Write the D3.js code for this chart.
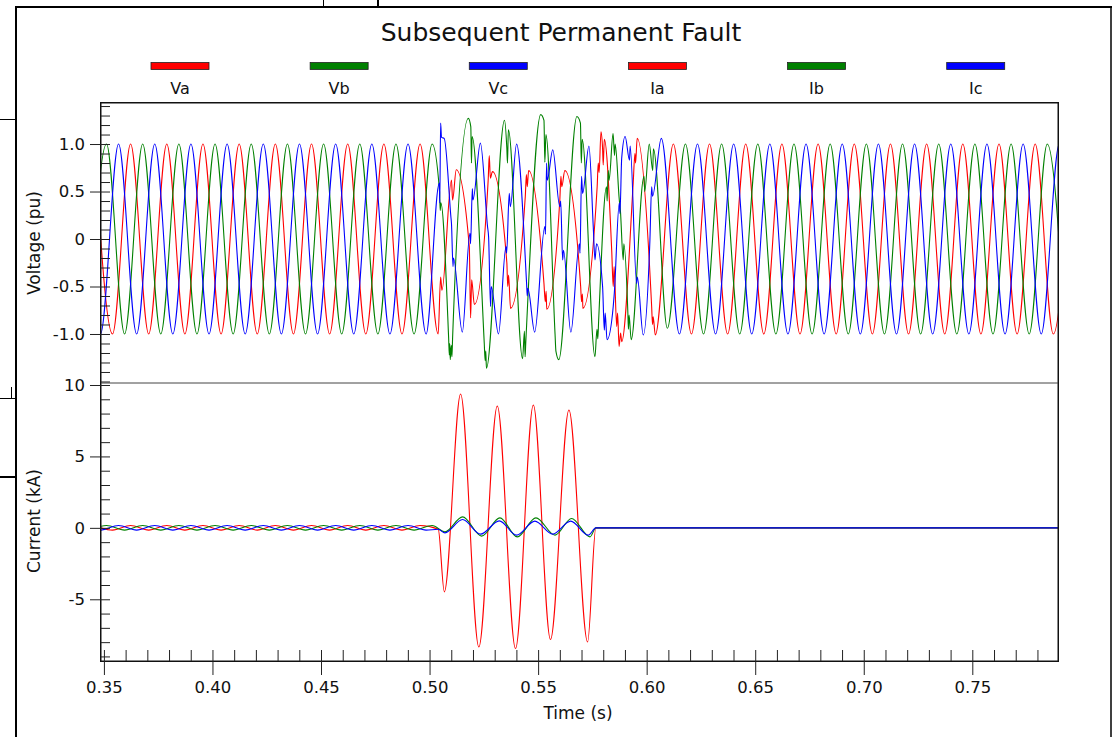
<!DOCTYPE html>
<html><head><meta charset="utf-8">
<script src="https://cdn.jsdelivr.net/npm/d3@7"></script>
<style>
body{margin:0;background:#fff}
svg{display:block}
text{font-family:"DejaVu Sans",Verdana,sans-serif;fill:#111}
</style></head>
<body><svg id="chart" width="1113" height="737"></svg>
<script>
// ---------------- data ----------------
const chartTitle = "Subsequent Permanent Fault";
const seriesNames = ["Va", "Vb", "Vc", "Ia", "Ib", "Ic"];
const seriesColors = ["#ff0000", "#008000", "#0000ff", "#ff0000", "#008000", "#0000ff"];
const xTickValues = [0.35, 0.40, 0.45, 0.50, 0.55, 0.60, 0.65, 0.70, 0.75];
const xTickLabels = ["0.35", "0.40", "0.45", "0.50", "0.55", "0.60", "0.65", "0.70", "0.75"];
const vTickValues = [-1, -0.5, 0, 0.5, 1];
const vTickLabels = ["-1.0", "-0.5", "0", "0.5", "1.0"];
const iTickValues = [-5, 0, 5, 10];
const iTickLabels = ["-5", "0", "5", "10"];
const xDomain = [0.34866, 0.78947];
const vDomain = [-1.516, 1.432];
const iDomain = [-9.32, 10.14];
const halfCycle = 1 / 120;           // 60 Hz system: one extremum every half cycle

// voltage extrema (pu), one per half cycle, starting at the given time
const vaStart = 0.34563;
const vaExtrema = [1,-1,1,-1,1,-1,1,-1,1,-1,1,-1,1,-1,1,-1,1,-1,1, -1.0,
  0.73,-0.69,0.71,-0.73,0.72,-0.74,0.72,-0.73,1.13,-1.13,1.06,-1.01,
  1,-1,1,-1,1,-1,1,-1,1,-1,1,-1,1,-1,1,-1,1,-1,1,-1,1,-1,1];
const vbStart = 0.34286;
const vbExtrema = [-1,1,-1,1,-1,1,-1,1,-1,1,-1,1,-1,1,-1,1,-1,1,-1, 1,
  -1.27,1.27,-1.36,1.25,-1.26,1.31,-1.27,1.29,-1.24,1.11,-1.06,1.00,-0.94,
  1,-1,1,-1,1,-1,1,-1,1,-1,1,-1,1,-1,1,-1,1,-1,1,-1,1,-1];
const vcStart = 0.34008;
const vcExtrema = [1,-1,1,-1,1,-1,1,-1,1,-1,1,-1,1,-1,1,-1,1,-1,1,-1,
  1.06,-0.98,1.01,-1.0,1.0,-0.98,0.94,-0.98,0.98,-1.06,1.08,-1.01,1.06,
  -1,1,-1,1,-1,1,-1,1,-1,1,-1,1,-1,1,-1,1,-1,1,-1,1,-1,1,-1];

// fault-period distortion points [time s, pu]
const vaSpikes = [[0.5051,-0.40],[0.5057,-0.54],[0.5101,0.62],[0.5106,0.41],
  [0.5183,-0.08],[0.5189,-0.83],[0.5194,-0.43],[0.5270,0.62],[0.5275,0.88],[0.5280,0.64],
  [0.5356,-0.25],[0.5360,-0.50],[0.5364,-0.38],[0.5441,0.45],[0.5446,0.68],[0.5450,0.55],
  [0.5527,-0.47],[0.5533,-0.66],[0.5537,-0.55],[0.5600,0.41],[0.5605,0.66],[0.5609,0.55],
  [0.5696,-0.50],[0.5700,-0.66],[0.5704,-0.58],[0.5772,0.55],[0.5777,0.80],[0.5781,0.70],
  [0.5797,0.95],[0.5800,0.78],[0.5805,1.05],[0.5839,-0.12],[0.5846,-0.50],[0.5850,-0.29],
  [0.5862,-0.92],[0.5866,-0.78],[0.5880,-0.99],[0.5885,-1.08],[0.5938,0.59],[0.5946,0.90],
  [0.5949,0.80],[0.6023,-0.71],[0.6027,-0.90],[0.6030,-0.82]];
const vbSpikes = [[0.5046,0.50],[0.5049,0.30],[0.5052,0.38],[0.5088,-1.05],[0.5091,-1.22],
  [0.5093,-1.10],[0.5100,-1.12],[0.5103,-1.24],[0.5106,-1.05],[0.5190,1.18],[0.5193,0.80],
  [0.5196,1.08],[0.5252,-1.10],[0.5256,-1.28],[0.5259,-1.18],[0.5356,0.95],[0.5359,0.80],
  [0.5363,1.15],[0.5437,-0.97],[0.5440,-1.24],[0.5443,-1.10],[0.5527,1.25],[0.5531,0.81],
  [0.5536,1.10],[0.5578,-1.00],[0.5582,-1.18],[0.5695,1.22],[0.5699,0.80],[0.5703,1.05],
  [0.5771,-0.95],[0.5775,-1.05],[0.5779,-0.85],[0.5815,0.55],[0.5818,0.40],[0.5823,0.72],
  [0.5827,0.62],[0.5852,0.88],[0.5855,1.00],[0.5874,0.41],[0.5879,0.30],[0.5892,-0.22],
  [0.5895,-0.05],[0.5913,-0.75],[0.5916,-0.95],[0.5919,-0.80],[0.5988,0.66],[0.5991,0.50],
  [0.6028,0.72],[0.6031,0.95]];
const vcSpikes = [[0.5045,0.59],[0.5047,0.38],[0.5051,1.22],[0.5055,1.07],
  [0.5098,0.24],[0.5101,0.16],[0.5108,-0.29],[0.5110,-0.20],[0.5186,0.06],[0.5189,-0.05],
  [0.5197,0.53],[0.5200,0.41],[0.5267,0.13],[0.5272,0.02],[0.5281,-0.71],[0.5284,-0.50],
  [0.5352,-0.08],[0.5355,-0.15],[0.5367,0.48],[0.5372,0.34],[0.5447,-0.47],[0.5450,-0.60],
  [0.5453,-0.52],[0.5531,0.13],[0.5534,0.05],[0.5539,0.80],[0.5542,0.62],[0.5600,0.34],
  [0.5604,0.40],[0.5613,-0.22],[0.5617,-0.12],[0.5690,-0.05],[0.5693,-0.15],[0.5700,0.66],
  [0.5705,0.48],[0.5754,0.13],[0.5762,-0.22],[0.5769,-0.05],[0.5797,-0.50],[0.5805,-0.96],
  [0.5809,-0.78],[0.5846,-0.71],[0.5851,-0.57],[0.5874,0.38],[0.5877,0.27],[0.5885,0.85],
  [0.5921,0.83],[0.5924,0.98],[0.5954,-0.47],[0.5957,-0.40],[0.6015,-0.01],[0.6023,0.55],
  [0.6027,0.45]];

// current: pre-fault extrema (kA) per half cycle, then fault points [time s, kA]
const iaStart = 0.34563;
const iaPre = [0.16,-0.16,0.16,-0.16,0.16,-0.16,0.16,-0.16,0.16,-0.16,0.16,-0.16,0.16,-0.16,0.16,-0.16,0.16,-0.16,0.16];
const iaFault = [[0.5040,-0.10],[0.5068,-4.48],[0.5143,9.37],[0.5227,-8.34],[0.5312,8.53],
  [0.5396,-8.45],[0.5478,8.60],[0.5557,-7.82],[0.5642,8.25],[0.5728,-7.99],[0.5766,0],[0.7950,0]];
const ibStart = 0.34286;
const ibPre = [-0.16,0.16,-0.16,0.16,-0.16,0.16,-0.16,0.16,-0.16,0.16,-0.16,0.16,-0.16,0.16,-0.16,0.16,-0.16,0.16,-0.16,0.16];
const ibFault = [[0.5071,-0.28],[0.5152,0.77],[0.5240,-0.58],[0.5324,0.70],[0.5404,-0.63],
  [0.5490,0.70],[0.5578,-0.51],[0.5654,0.66],[0.5739,-0.63],[0.5766,0],[0.7950,0]];
const icStart = 0.34008;
const icPre = [0.16,-0.16,0.16,-0.16,0.16,-0.16,0.16,-0.16,0.16,-0.16,0.16,-0.16,0.16,-0.16,0.16,-0.16,0.16,-0.16,0.16,-0.16];
const icFault = [[0.5040,-0.10],[0.5071,-0.35],[0.5152,0.58],[0.5235,-0.44],[0.5321,0.49],
  [0.5401,-0.51],[0.5485,0.47],[0.5567,-0.44],[0.5650,0.47],[0.5731,-0.51],[0.5766,0],[0.7950,0]];

// ---------------- helpers ----------------
const gridPoints = (start, vals) => vals.map((v, i) => [start + i * halfCycle, v]);
const mergePts = (...lists) => lists.flat().sort((a, b) => a[0] - b[0]);

const voltageSeries = [
  mergePts(gridPoints(vaStart, vaExtrema), vaSpikes),
  mergePts(gridPoints(vbStart, vbExtrema), vbSpikes),
  mergePts(gridPoints(vcStart, vcExtrema), vcSpikes)];
const currentSeries = [
  mergePts(gridPoints(iaStart, iaPre), iaFault),
  mergePts(gridPoints(ibStart, ibPre), ibFault),
  mergePts(gridPoints(icStart, icPre), icFault)];

// ---------------- layout ----------------
const L = 101, R = 1058, T = 103, MID = 383, B = 661;
const svg = d3.select("#chart");

const x = d3.scaleLinear().domain(xDomain).range([L, R]);
const yV = d3.scaleLinear().domain(vDomain).range([MID, T]);
const yI = d3.scaleLinear().domain(iDomain).range([B, MID]);

// window frame + partial background window
const frame = svg.append("g").attr("stroke", "#000").attr("fill", "none");
frame.append("line").attr("x1", 0).attr("x2", 15).attr("y1", 119.5).attr("y2", 119.5).attr("stroke-width", 1);
frame.append("line").attr("x1", 0).attr("x2", 15).attr("y1", 398.5).attr("y2", 398.5).attr("stroke-width", 1);
frame.append("line").attr("x1", 11.5).attr("x2", 11.5).attr("y1", 387).attr("y2", 398).attr("stroke-width", 1);
frame.append("line").attr("x1", 0).attr("x2", 15).attr("y1", 477).attr("y2", 477).attr("stroke-width", 2);
frame.append("line").attr("x1", 323.5).attr("x2", 323.5).attr("y1", 0).attr("y2", 6).attr("stroke-width", 1);
frame.append("line").attr("x1", 378).attr("x2", 378).attr("y1", 0).attr("y2", 6).attr("stroke-width", 2);
frame.append("line").attr("x1", 16).attr("x2", 16).attr("y1", 6).attr("y2", 737).attr("stroke-width", 2);
frame.append("line").attr("x1", 15).attr("x2", 1112).attr("y1", 7).attr("y2", 7).attr("stroke-width", 2);
frame.append("line").attr("x1", 1111).attr("x2", 1111).attr("y1", 6).attr("y2", 737).attr("stroke-width", 1.5);

// title
svg.append("text").attr("x", 561).attr("y", 41).attr("text-anchor", "middle")
  .style("font-size", "25px").text(chartTitle);

// legend
const legendX = d3.scalePoint().domain(seriesNames).range([180, 975.7]);
const lg = svg.append("g").selectAll("g").data(seriesNames).join("g")
  .attr("transform", d => `translate(${legendX(d)},0)`);
lg.append("rect").attr("x", -29).attr("y", 62.5).attr("width", 58).attr("height", 7)
  .attr("fill", (d, i) => seriesColors[i]).attr("stroke", "#222").attr("stroke-width", 0.8);
lg.append("text").attr("y", 94).attr("text-anchor", "middle").style("font-size", "16px").text(d => d);

// clip paths
const defs = svg.append("defs");
defs.append("clipPath").attr("id", "clipV").append("rect").attr("x", L).attr("y", T).attr("width", R - L).attr("height", MID - T);
defs.append("clipPath").attr("id", "clipI").append("rect").attr("x", L).attr("y", MID).attr("width", R - L).attr("height", B - MID);

const lineV = d3.line().x(d => x(d[0])).y(d => yV(d[1])).curve(d3.curveMonotoneX);
const lineI = d3.line().x(d => x(d[0])).y(d => yI(d[1])).curve(d3.curveMonotoneX);

svg.append("g").attr("clip-path", "url(#clipV)").selectAll("path").data(voltageSeries).join("path")
  .attr("d", lineV).attr("fill", "none").attr("stroke", (d, i) => seriesColors[i]).attr("stroke-width", 1.1);
svg.append("g").attr("clip-path", "url(#clipI)").selectAll("path").data(currentSeries).join("path")
  .attr("d", lineI).attr("fill", "none").attr("stroke", (d, i) => seriesColors[i + 3]).attr("stroke-width", 1.1);

// panel frames
svg.append("rect").attr("x", L - 0.25).attr("y", T - 0.25).attr("width", R - L + 0.5).attr("height", B - T + 0.5)
  .attr("fill", "none").attr("stroke", "#111").attr("stroke-width", 1.5);
svg.append("line").attr("x1", L).attr("x2", R).attr("y1", MID).attr("y2", MID).attr("stroke", "#444").attr("stroke-width", 1);

// axes
function styleAxis(g, size) {
  g.select(".domain").remove();
  g.selectAll(".tick line").attr("stroke", "#222");
  g.selectAll(".tick text").style("font-size", size).attr("fill", "#111")
    .style("font-family", '"DejaVu Sans",Verdana,sans-serif');
}
// voltage
svg.append("g").attr("transform", `translate(${L},0)`)
  .call(d3.axisLeft(yV).tickValues(vTickValues).tickFormat((d, i) => vTickLabels[i]).tickSizeInner(11).tickSizeOuter(0).tickPadding(5))
  .call(g => styleAxis(g, "16.5px"));
svg.append("g").attr("transform", `translate(${L},0)`)
  .call(d3.axisRight(yV).tickValues(d3.range(-15, 15).map(k => k / 10)).tickFormat("").tickSizeInner(9).tickSizeOuter(0))
  .call(g => styleAxis(g, "16px"));
// current
svg.append("g").attr("transform", `translate(${L},0)`)
  .call(d3.axisLeft(yI).tickValues(iTickValues).tickFormat((d, i) => iTickLabels[i]).tickSizeInner(11).tickSizeOuter(0).tickPadding(5))
  .call(g => styleAxis(g, "16.5px"));
svg.append("g").attr("transform", `translate(${L},0)`)
  .call(d3.axisRight(yI).tickValues(d3.range(-9, 11)).tickFormat("").tickSizeInner(9).tickSizeOuter(0))
  .call(g => styleAxis(g, "16px"));
// time
svg.append("g").attr("transform", `translate(0,${B})`)
  .call(d3.axisBottom(x).tickValues(xTickValues).tickFormat((d, i) => xTickLabels[i]).tickSizeInner(14).tickSizeOuter(0).tickPadding(6))
  .call(g => styleAxis(g, "16.5px"));
svg.append("g").attr("transform", `translate(0,${B})`)
  .call(d3.axisTop(x).tickValues(d3.range(35, 79).map(k => k / 100)).tickFormat("").tickSizeInner(11).tickSizeOuter(0))
  .call(g => styleAxis(g, "16px"));

// axis titles
svg.append("text").attr("transform", "translate(34,243) rotate(-90)").attr("dy", "0.35em")
  .attr("text-anchor", "middle").style("font-size", "17px").text("Voltage (pu)");
svg.append("text").attr("transform", "translate(34,521) rotate(-90)").attr("dy", "0.35em")
  .attr("text-anchor", "middle").style("font-size", "17px").text("Current (kA)");
svg.append("text").attr("x", 578).attr("y", 719).attr("text-anchor", "middle")
  .style("font-size", "17px").text("Time (s)");
</script></body></html>
